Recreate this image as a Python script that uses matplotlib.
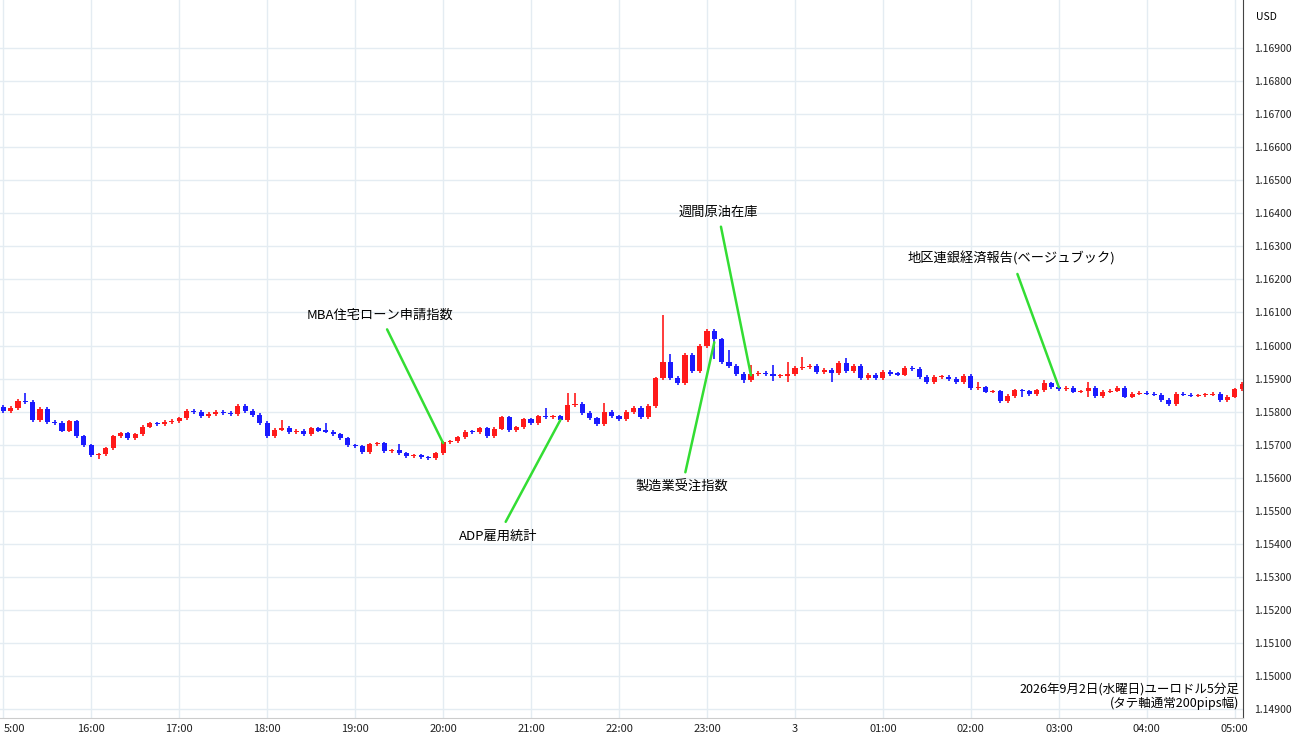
import matplotlib
matplotlib.use("Agg")
import matplotlib.pyplot as plt
import numpy as np

plt.rcParams['font.family'] = ['Noto Sans CJK JP', 'DejaVu Sans']

BASE = 1.15000  # prices below are in pips above this base
first_open = 81.4
closes = [80.2, 81.1, 83.2, 82.9, 77.4, 80.8, 76.9, 76.6, 74.2, 77.1,
          72.5, 69.8, 66.8, 67.1, 68.9, 72.5, 73.4, 71.9, 73.1, 75.5,
          76.5, 76.2, 76.9, 77.2, 78.0, 80.2, 79.9, 78.7, 79.3, 79.9,
          79.6, 79.3, 81.7, 80.2, 79.0, 76.6, 72.5, 74.6, 75.2, 73.7,
          74.3, 73.1, 75.0, 74.3, 74.0, 73.1, 71.9, 69.8, 69.5, 67.7,
          70.1, 70.4, 68.0, 68.3, 67.4, 66.5, 66.8, 66.2, 65.9, 67.4,
          70.7, 71.0, 72.2, 74.0, 73.7, 75.0, 72.5, 74.9, 78.3, 74.4,
          75.3, 77.7, 76.5, 78.6, 78.3, 78.6, 77.4, 82.0, 82.3, 79.6,
          78.0, 76.2, 79.9, 78.6, 77.7, 79.9, 81.1, 78.3, 81.7, 90.1,
          95.0, 90.2, 88.7, 97.1, 92.3, 99.9, 104.4, 101.9, 95.0, 93.8,
          91.4, 89.6, 91.4, 91.7, 91.4, 90.8, 90.9, 91.4, 93.2, 93.5,
          93.8, 92.0, 92.6, 91.7, 94.7, 92.3, 93.8, 90.2, 91.1, 90.2,
          92.0, 91.4, 91.2, 93.2, 92.9, 90.5, 89.0, 90.5, 90.6, 89.9,
          89.0, 90.8, 87.2, 87.4, 86.0, 86.2, 83.2, 84.7, 86.5, 86.2,
          85.3, 86.5, 88.6, 87.4, 86.8, 87.2, 86.0, 86.2, 87.2, 84.7,
          86.0, 86.3, 87.2, 84.5, 85.4, 85.7, 85.4, 85.1, 83.5, 82.3,
          85.4, 85.1, 84.8, 84.9, 85.1, 85.3, 83.5, 84.5, 86.8, 88.4]
# notable wick extremes (candle index: (high, low)), in pips
wick_highs = {3: 85.5, 38: 77.5, 44: 76.7, 54: 70.1, 74: 81.1, 77: 85.5, 78: 85.5,
              82: 82.6, 90: 109.2, 91: 97.4, 99: 98.6, 102: 94.1, 105: 94.1,
              107: 95.1, 109: 96.6, 115: 96.1, 133: 89.1, 142: 89.6, 148: 89.1}
wick_lows = {13: 65.8, 97: 96.0, 101: 88.6, 105: 89.3, 107: 89.1, 113: 89.1,
             139: 84.5, 148: 84.5}
hour_labels = ["15:00", "16:00", "17:00", "18:00", "19:00", "20:00", "21:00", "22:00",
               "23:00", "3", "01:00", "02:00", "03:00", "04:00", "05:00"]
events = [("MBA住宅ローン申請指数", 60, 70.5, 51.4, 109.2),
          ("ADP雇用統計", 76, 77.5, 67.5, 42.4),
          ("週間原油在庫", 102, 91.0, 97.5, 140.4),
          ("製造業受注指数", 97, 101.0, 92.6, 57.2),
          ("地区連銀経済報告(ベージュブック)", 144, 87.4, 137.6, 126.2)]

opens = [first_open] + closes[:-1]
n = len(closes)
fig = plt.figure(figsize=(13, 7.45), dpi=100)
ax = fig.add_axes([0.0, 0.036, 0.956, 0.964])
UP, DN = '#ff1a1a', '#1a1aff'
for i in range(n):
    o, c = opens[i], closes[i]
    col = UP if c >= o else DN
    hi = wick_highs.get(i, max(o, c) + 0.5)
    lo = wick_lows.get(i, min(o, c) - 0.5)
    ax.vlines(i, lo, hi, color=col, lw=1.2, zorder=3)
    h = max(abs(c - o), 0.35)
    ax.bar(i, h, bottom=min(o, c), width=0.7, color=col, zorder=4, linewidth=0)

for text, ci, cp, tx, ty in events:
    ax.annotate(text, xy=(ci, cp), xytext=(tx, ty), fontsize=9.5, ha='center', va='center',
                arrowprops=dict(arrowstyle='-', color='#33dd33', lw=1.8, shrinkA=4, shrinkB=0),
                zorder=5)

ax.set_xlim(-0.45, 169.1)
ax.set_ylim(-12.7, 204.5)
xt = np.arange(0, 12 * len(hour_labels), 12)
ax.set_xticks(xt)
ax.set_xticklabels(hour_labels, fontsize=8)
ax.get_xticklabels()[0].set_text("5:00")
labels = ["5:00"] + hour_labels[1:]
ax.set_xticklabels(labels, fontsize=8)
ax.get_xticklabels()[0].set_horizontalalignment('left')
yt = np.arange(-10, 191, 10)
ax.set_yticks(yt)
ax.set_yticklabels([f"{BASE + v / 10000:.5f}" for v in yt], fontsize=7.5)
ax.yaxis.tick_right()
ax.tick_params(axis='both', length=0, pad=4, colors='#222222')
ax.tick_params(axis='y', pad=8)
ax.grid(True, color='#e4ecf2', lw=1)
for s in ['top', 'left']:
    ax.spines[s].set_visible(False)
ax.spines['right'].set_color('#444444')
ax.spines['right'].set_linewidth(0.8)
ax.spines['bottom'].set_color('#cccccc')
fig.text(0.966, 0.977, "USD", fontsize=7.5, ha='left', va='center')
ax.text(0.997, 0.012, "2026年9月2日(水曜日)ユーロドル5分足\n(タテ軸通常200pips幅)",
        transform=ax.transAxes, ha='right', va='bottom', fontsize=9, linespacing=1.0)
fig.savefig("out.png", dpi=100)
